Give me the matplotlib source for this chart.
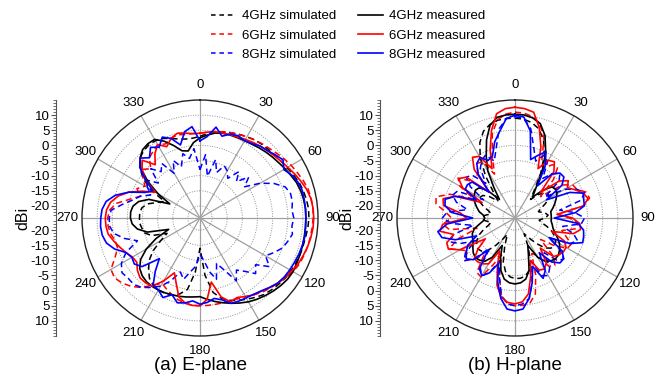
import numpy as np
import matplotlib.pyplot as plt
from matplotlib.lines import Line2D

plt.rcParams['font.family'] = ['Liberation Sans', 'DejaVu Sans']

# angles of the gain samples (degrees, clockwise from top)
angles = np.arange(0, 360, 5)

# ---- E-plane gain (dBi) ----
e4_sim = [3, 4, 5, 5.5, 6, 6.5, 7, 7.5, 7.8, 8, 8.3, 8.7,
          9.2, 10, 10.8, 11.3, 11.7, 12, 12, 11.8, 11.5, 11.3, 11.2, 11,
          10.8, 10.5, 10, 9.5, 9, 8, 7, 6, 5, 3.5, 1, -5,
          -14, -6, 0, 2, 3, 3.5, 3.5, 3, 2, 0, -2, -5,
          -9, -12, -7, -5, -4.5, -4, -4, -4, -4.5, -6, -9, -11,
          -5, -1, 2, 4, 5, 5.5, 5.5, 5, 4, 3, 2.5, 2.5]
e6_sim = [4, 4.5, 5, 5.5, 6, 6.5, 7, 7.5, 8, 8.5, 9.2, 10,
          10.8, 11.5, 12.3, 13, 13.3, 13.5, 13.4, 13.2, 13, 12.8, 12.5, 12.2,
          11.5, 10.5, 9.5, 8.8, 8, 7, 6, 5.5, 5, 5, 5, 5,
          5, 5, 4.5, 4, 3, 2, 1, 3, 6, 8, 9.5, 10.5,
          10, 7, 5, 5, 6, 6.5, 6.5, 6, 4, 0, -3, -1,
          -3, -1, 1, -1, 2, 3, 4, 3, 4, 4.5, 4, 4]
e8_sim = [-8, -3, -10, -4, -8, -5, -6, -8, -4, -7, -3, -6,
          -1, 3, 6, 7, 7, 6.5, 7, 6.5, 7, 6, 5, 3,
          1, 4, 0, 2, -1, -3, 0, -5, -8, -3, -6, -10,
          -12, -8, -6, -3, -5, -1, 2, 4, 6, 7, 7, 7.5,
          6, 3, -2, 2, 5, 6, 6, 5.5, 2, -1, -3, -6,
          -4, -2, -6, -1, -4, -2, -7, -3, -6, -2, -4, -1]
e4_meas = [2.5, 3.5, 4.5, 5, 5.2, 5.3, 5.5, 5.8, 6.3, 6.8, 7.3, 7.8,
           8.5, 9.2, 10, 10.5, 10.8, 11, 11, 11, 11, 11.1, 11.2, 11.3,
           11.5, 11.3, 10.8, 10.2, 9.5, 8.8, 8, 7, 6, 5, 4, 3,
           2, 2.2, 2.5, 2.8, 3, 3.3, 3.5, 3.6, 3.5, 3, 2, 0,
           -3.5, -8, -13, -6, -3, -1.5, -1, -1, -1.5, -3, -6, -13,
           -8, -3, 1.5, 4, 5.5, 6, 6, 4, 1.5, -1, -1.5, 1]
e6_meas = [4, 4.5, 5, 5, 5.3, 5.5, 6, 6.5, 7, 7.5, 8, 8.7,
           9.5, 10.5, 11.5, 12.5, 13.2, 13.5, 13.6, 13.5, 13.2, 12.8, 12.3, 11.8,
           11, 10.2, 9.5, 8.5, 7.5, 7, 6, 5, 5.5, 3, -2.5, 3,
           5, 5, 4.5, 3, -1, -4, 0, 3.5, 4, 4, 3, 1.5,
           1.8, 3, 4.2, 5.5, 6.8, 7.2, 7.3, 7, 6, 4, 1, -3,
           -7, -2, 1, 3, -1, 2, 4, 2, 4, 5, 4.5, 4]
e8_meas = [1.5, 3, 6.5, 4, 5.5, 6, 5.5, 6, 7, 7.5, 8.5, 9.5,
           8, 9.5, 10.5, 11, 11, 11, 11, 11, 11.2, 11, 10.8, 10.5,
           10.3, 10, 9.5, 8.5, 7.5, 6.8, 6.5, 6.3, 6, 4, 3, 4,
           4.5, 3.5, 4.5, 5, 3, 5, 3.5, 3, -1, -5, 1, 2.5,
           2, 3, 6, 8, 8.8, 9, 8.8, 8.5, 7.5, 5, 1, -4,
           -6, -2, 2, 4, 2, 4.5, 3, 5.5, 4, 1, 5, 6.3]

# ---- H-plane gain (dBi) ----
h4_sim = [9, 8.8, 8, 6.5, 3.5, -1, -7, -13, -16, -13, -11, -10.5,
          -11, -13, -15, -16, -14, -13, -14, -16, -15, -13, -11, -9.5,
          -8.5, -8, -8.5, -10, -13, -16, -18, -14, -9, -6, -4.5, -4,
          -4, -4.5, -6, -9, -14, -18, -16, -13, -10, -8.5, -8, -8.5,
          -9.5, -11, -13, -15, -16, -14, -13, -14, -16, -15, -13, -11,
          -10.5, -11, -13, -16, -13, -7, -1, 3.5, 6.5, 8, 8.8, 9]
h6_sim = [11, 10.8, 10, 8, 4, -3, -5, -2.5, -2, -6, -13, -5,
          -2, -1.5, 1, 1.5, -1, -10, -6, -3, -3.5, -8, -6, -3.5,
          -4, -8, -13, -6, -3.5, -4.5, -10, -11, -4, 2, 4.5, 5,
          5, 4.5, 2, -4, -11, -7, -1.5, -2, -8, -5, -2, -5,
          -3, 0, -4, -11, -2, 0, -3, -1, 2.5, 3, -1, -9,
          -3, -1, -5, -12, -5, -2, -2.5, -8, -2, 5, 9, 10.5]
h8_sim = [9.5, 9, 6, 0, -4, -1, -2.5, -8, -5, -3, -5, -12,
          -5, -1.5, 0.5, -1.5, -9, -4, -1, -2, -8, -4, -2, -4,
          -11, -6, -3, -4, -9, -4, -2, -3, -9, -2, 3, 4.5,
          5, 4.5, 2, -4, -9, -4, -2, -4, -11, -5, -2, -4,
          -9, -4, -1, -3, -10, -3, 0, -1.5, -8, -4, -2, -3,
          -12, -6, -3, -4, -9, -4, -2, -1, -4, 0, 6, 9]
h4_meas = [10.3, 10.2, 9.6, 8.3, 5, 0, -6, -12, -15, -11, -8, -7.5,
           -8, -9, -10, -11, -12, -12, -12, -12, -11.5, -11, -10, -8.5,
           -7, -6, -5.2, -5, -5.5, -6.5, -9, -14, -11, -6, -3.5, -2.5,
           -2.2, -2.5, -3.5, -6, -10, -14, -9, -6.5, -5.8, -5.5, -6, -7,
           -8, -8.5, -9, -10, -12, -13.5, -14, -13.5, -12, -11, -10, -9,
           -8.5, -8, -8.5, -11, -16, -12, -6, -1.5, 3.5, 7.8, 9.8, 10.2]
h6_meas = [12.6, 12.3, 11.5, 7, 1, -6, -2, -1.3, -4, -12, -5, -2.5,
           -4, -2, 0, 1, -1, -10, -5, -2.5, -2, -4, -11, -6,
           -4.5, -4.5, -5, -6, -11, -6, -4.5, -5, -9, -4, 1.5, 3.8,
           4.4, 4, 2.5, -1, -7, -12, -6.5, -5.5, -5, -5, -8, -12,
           -3, 0.3, 0, -3, 1.2, 0, -8, -6, 0, 0.6, -3, -12,
           -4, -1.3, -3, -12, -3, 0.5, -0.5, -6, 0, 6, 11, 12.3]
h8_meas = [10, 9.5, 5.2, -4, -2, 0.2, -4, -11, -5, -3, -2.9, -5,
           -12, -4, 0, -0.5, -0.7, -4, -11, -3, -1, -0.5, -0.2, -4,
           -11, -5, -3, -3, -5, -10, -4, -2, -7, -2, 3, 6.2,
           6.7, 6.2, 3, -2, -8, -4, -2, -3.5, -10, -4.5, -3, -4.3,
           -6, -10, -3, 1, 1.9, -1.5, -10, -3, -0.5, -0.1, -3, -10,
           -5, -4.8, -5.5, -12, -5, -2, -0.9, -3, -2.2, 2, 5.1, 9]

tick_angles = list(range(0, 360, 30))
ring_levels = [-20, -15, -10, -5, 0, 5, 10]
axis_labels = ['10', '5', '0', '-5', '-10', '-15', '-20']
r_min, r_max = -24, 15

freq_colors = ['black', 'red', 'blue']
sim_labels = ['4GHz simulated', '6GHz simulated', '8GHz simulated']
meas_labels = ['4GHz measured', '6GHz measured', '8GHz measured']

fig = plt.figure(figsize=(6.58, 3.79), dpi=100)
W, H = 658, 379
R = 118


def polar_panel(cx, cy, spine_out, sims, meas, title):
    rect = [(cx - R) / W, (H - cy - R) / H, 2 * R / W, 2 * R / H]
    ax = fig.add_axes(rect, projection='polar')
    ax.set_theta_zero_location('N')
    ax.set_theta_direction(-1)
    th = np.deg2rad(np.r_[angles, 360])
    for vals, c in zip(sims, freq_colors):
        ax.plot(th, np.r_[vals, vals[0]], color=c, lw=1.1, ls=(0, (4, 2.5)),
                dash_joinstyle='round')
    for vals, c in zip(meas, freq_colors):
        ax.plot(th, np.r_[vals, vals[0]], color=c, lw=1.2,
                solid_joinstyle='round')
    ax.set_ylim(r_min, r_max)
    ax.set_yticks(ring_levels)
    ax.set_yticklabels([])
    ax.set_thetagrids(tick_angles, [str(a) for a in tick_angles], fontsize=9.5)
    ax.tick_params(axis='x', pad=0)
    ax.xaxis.grid(True, color='#a0a0a0', lw=0.9, ls='-')
    ax.yaxis.grid(True, color='#909090', lw=0.7, ls=(0, (1, 1.5)))
    ax.spines['polar'].set_color('#222222')
    ax.spines['polar'].set_linewidth(1.0)

    # linear dBi scale at the left, mirrored about the centre
    side = fig.add_axes(rect)
    side.patch.set_visible(False)
    for s in ['top', 'right', 'bottom']:
        side.spines[s].set_visible(False)
    side.spines['left'].set_position(('outward', spine_out))
    side.spines['left'].set_color('#555555')
    side.set_xticks([])
    span = r_max - r_min
    side.set_ylim(-span, span)
    levels = [float(v) for v in axis_labels]
    up = [v - r_min for v in levels]
    down = [-(v - r_min) for v in levels]
    side.set_yticks(up + down)
    side.set_yticklabels(axis_labels + axis_labels, fontsize=9.5)
    minor = [k for k in range(1, span + 1)] + [-k for k in range(1, span + 1)]
    side.set_yticks(minor, minor=True)
    side.tick_params(axis='y', which='major', length=3.5, width=0.8, pad=1,
                     color='#555555')
    side.tick_params(axis='y', which='minor', length=2, width=0.6,
                     color='#555555')
    side.set_ylabel('dBi', fontsize=11.5, labelpad=0)
    fig.text(cx / W, 1 - 365 / H, title, ha='center', va='center', fontsize=13.5)
    return ax


polar_panel(200, 218, 19, [e4_sim, e6_sim, e8_sim],
            [e4_meas, e6_meas, e8_meas], '(a) E-plane')
polar_panel(515, 218, 12, [h4_sim, h6_sim, h8_sim],
            [h4_meas, h6_meas, h8_meas], '(b) H-plane')

handles = [Line2D([], [], color=c, lw=1.1, ls=(0, (3, 2.5))) for c in freq_colors]
handles += [Line2D([], [], color=c, lw=1.2) for c in freq_colors]
fig.legend(handles, sim_labels + meas_labels, ncol=2, loc='upper center',
           bbox_to_anchor=(348 / W, 1.0), frameon=False, fontsize=9.5,
           handlelength=1.9, handletextpad=0.5, columnspacing=1.6,
           labelspacing=0.55, borderaxespad=0.35)

fig.savefig('out.png', dpi=100)
